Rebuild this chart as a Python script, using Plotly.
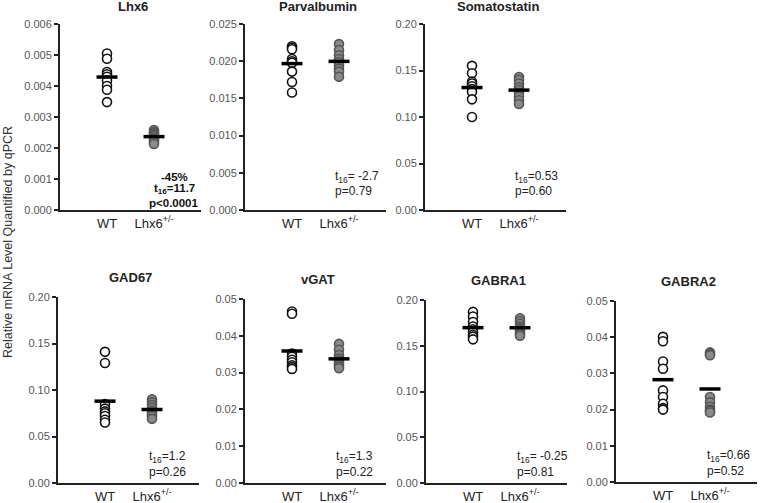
import plotly.graph_objects as go
import numpy as np

genes = ["Lhx6", "Parvalbumin", "Somatostatin", "GAD67", "vGAT", "GABRA1", "GABRA2"]
groups = ["WT", "Lhx6<sup>+/-</sup>"]

wt_values = [
    [0.00505, 0.00488, 0.00445, 0.00438, 0.00430, 0.00418, 0.00400, 0.00388, 0.00348],
    [0.0220, 0.0218, 0.0216, 0.0203, 0.0200, 0.0198, 0.0186, 0.0172, 0.0158],
    [0.155, 0.147, 0.138, 0.136, 0.133, 0.130, 0.127, 0.119, 0.100],
    [0.141, 0.129, 0.085, 0.080, 0.077, 0.075, 0.072, 0.068, 0.065],
    [0.0466, 0.0460, 0.0352, 0.0343, 0.0335, 0.0328, 0.0320, 0.0315, 0.0310],
    [0.187, 0.182, 0.176, 0.171, 0.168, 0.165, 0.162, 0.160, 0.157],
    [0.0401, 0.0389, 0.0333, 0.0313, 0.0253, 0.0235, 0.0216, 0.0204, 0.0200],
]
ko_values = [
    [0.00258, 0.00252, 0.00248, 0.00243, 0.00238, 0.00232, 0.00226, 0.00220, 0.00213],
    [0.0223, 0.0215, 0.0208, 0.0203, 0.0199, 0.0195, 0.0190, 0.0186, 0.0179],
    [0.143, 0.140, 0.136, 0.132, 0.129, 0.126, 0.122, 0.118, 0.114],
    [0.090, 0.087, 0.084, 0.081, 0.078, 0.076, 0.074, 0.072, 0.069],
    [0.0378, 0.0362, 0.0348, 0.0338, 0.0332, 0.0327, 0.0322, 0.0317, 0.0312],
    [0.180, 0.177, 0.174, 0.171, 0.169, 0.167, 0.165, 0.163, 0.161],
    [0.0358, 0.0354, 0.0350, 0.0235, 0.0220, 0.0208, 0.0200, 0.0196, 0.0192],
]
y_max = [0.006, 0.025, 0.20, 0.20, 0.05, 0.20, 0.05]
y_dtick = [0.001, 0.005, 0.05, 0.05, 0.01, 0.05, 0.01]
y_format = [".3f", ".3f", ".2f", ".2f", ".2f", ".2f", ".2f"]
t_text = ["t<sub>16</sub>=11.7", "t<sub>16</sub>= -2.7", "t<sub>16</sub>=0.53",
          "t<sub>16</sub>=1.2", "t<sub>16</sub>=1.3", "t<sub>16</sub>= -0.25",
          "t<sub>16</sub>=0.66"]
p_text = ["p<0.0001", "p=0.79", "p=0.60", "p=0.26", "p=0.22", "p=0.81", "p=0.52"]
change_text = "-45%"

W, H = 761, 503
# pixel layout of each panel: (left, right, top, bottom)
panels = [
    (60, 201, 24, 210),
    (245, 386, 24, 210),
    (425, 566, 24, 210),
    (58, 199, 297, 483),
    (245, 386, 299, 483),
    (426, 567, 300, 483),
    (616, 757, 301, 482),
]

FONT = "Liberation Sans, Arial, sans-serif"
fig = go.Figure()
layout = dict(
    width=W, height=H, margin=dict(l=0, r=0, t=0, b=0),
    plot_bgcolor="white", paper_bgcolor="white", showlegend=False,
    font=dict(family=FONT, color="#222"),
)
annotations = []


def note(text, x_px, y_px, anchor, size=12, color="#222"):
    annotations.append(dict(
        text=text, xref="paper", yref="paper", x=x_px / W, y=1 - y_px / H,
        xanchor=anchor, yanchor="middle", align=anchor, showarrow=False,
        font=dict(size=size, color=color, family=FONT)))


for i, g in enumerate(genes):
    n = "" if i == 0 else str(i + 1)
    xa, ya = "x" + n, "y" + n
    l, r, t, b = panels[i]
    layout["xaxis" + n] = dict(
        domain=[l / W, r / W], range=[0, 3], anchor=ya,
        tickvals=[1, 2], ticktext=groups, showline=True, linecolor="#222",
        linewidth=2, ticks="", showgrid=False, zeroline=False,
        tickfont=dict(size=13, color="#222", family=FONT), automargin=False,
    )
    layout["yaxis" + n] = dict(
        domain=[1 - b / H, 1 - t / H], range=[0, y_max[i]], anchor=xa,
        dtick=y_dtick[i], tick0=0, tickformat=y_format[i], showline=True,
        linecolor="#222", linewidth=2, ticks="outside", ticklen=4,
        tickcolor="#222", tickwidth=1.5, showgrid=False, zeroline=False,
        tickfont=dict(size=11, color="#555", family=FONT), automargin=False,
    )
    wt, ko = wt_values[i], ko_values[i]
    fig.add_trace(go.Scatter(
        x=[1] * len(wt), y=wt, mode="markers", xaxis=xa, yaxis=ya,
        marker=dict(size=9, color="white", line=dict(color="#111", width=1.6)),
        cliponaxis=False))
    fig.add_trace(go.Scatter(
        x=[2] * len(ko), y=ko, mode="markers", xaxis=xa, yaxis=ya,
        marker=dict(size=9, color="#8a8a8a", line=dict(color="#555", width=1.6)),
        cliponaxis=False))
    fig.add_trace(go.Scatter(
        x=[1, 2], y=[float(np.mean(wt)), float(np.mean(ko))], mode="markers",
        xaxis=xa, yaxis=ya,
        marker=dict(symbol="line-ew", size=15, line=dict(color="black", width=3.5)),
        cliponaxis=False))
    title_y = t - 17 if i < 3 else t - 20
    note("<b>%s</b>" % g, (l + r) / 2 + 2, title_y, "center", size=13)
    if i == 0:
        cx = l + 114
        note("<b>%s</b>" % change_text, cx, b - 33, "center", size=11.5, color="#111")
        note("<b>%s</b>" % t_text[i], cx, b - 21, "center", size=11.5, color="#111")
        note("<b>%s</b>" % p_text[i], cx, b - 7, "center", size=11.5, color="#111")
    elif i < 3:
        note(t_text[i], l + 88, b - 33, "left")
        note(p_text[i], l + 88, b - 19, "left")
    else:
        note(t_text[i], l + 89, b - 26, "left")
        note(p_text[i], l + 89, b - 11, "left")

note("Relative mRNA Level Quantified by qPCR", 8, 242, "center", size=12.5, color="#333")
annotations[-1]["textangle"] = -90
layout["annotations"] = annotations
fig.update_layout(**layout)
fig.write_html("out.html", config={"displayModeBar": False},
               post_script="document.body.style.margin='0px';")
